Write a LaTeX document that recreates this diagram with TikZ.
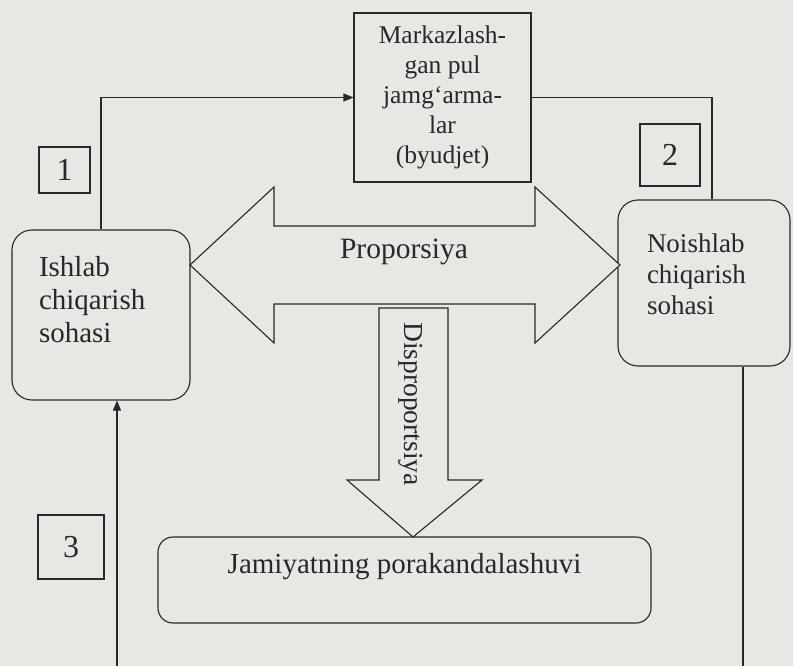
\documentclass[tikz,border=0pt]{standalone}
\usepackage{fontspec}
\setmainfont{Liberation Serif}
\usetikzlibrary{calc, positioning, arrows.meta}

\definecolor{paper}{RGB}{229,232,227}
\definecolor{ink}{RGB}{40,40,40}
\newcommand{\lowstrut}[1]{\rule[-#1]{0pt}{#1}}
\newcommand{\fsz}[2]{\fontsize{#1}{#2}\selectfont}

\begin{document}
\begin{tikzpicture}[x=1pt, y=-1pt, line width=1.1pt, color=ink,
    sector/.style={draw, fill=paper, rounded corners=20pt, inner sep=0pt, align=left},
    numbox/.style={draw, fill=paper, inner sep=0pt, font=\fsz{32}{34}},
    fundbox/.style={draw, fill=paper, inner sep=0pt, align=center, font=\fsz{25.5}{30}},
    flow/.style={-{Triangle[length=10pt, width=8pt]}},
    bigarrow/.style={draw, fill=paper, line join=miter}]
    \path[use as bounding box, fill=paper] (0,0) rectangle (793,666);

    % sectors and the fund
    \node[fundbox, minimum width=177pt, minimum height=169pt] (fund) at (442.5,97.5) {Markazlash-\\gan pul\\jamg‘arma-\\lar\\(byudjet)};
    \node[sector, minimum width=178pt, minimum height=170pt, text width=124pt, font=\fsz{29}{33}] (ishlab) at (101,315) {Ishlab\\chiqarish\\sohasi\lowstrut{32pt}};
    \node[sector, minimum width=172pt, minimum height=166pt, text width=114pt, font=\fsz{27}{31}] (noishlab) at (704,283) {Noishlab\\chiqarish\\sohasi\lowstrut{18pt}};
    \node[sector, rounded corners=15pt, minimum width=493pt, minimum height=86pt, align=center, font=\fsz{29}{33}] (jamiyat) at (404.5,580) {Jamiyatning porakandalashuvi\lowstrut{34pt}};

    \node[numbox, minimum width=51pt, minimum height=46pt] (one) at (64.5,170) {1};
    \node[numbox, minimum width=60pt, minimum height=62pt] (two) at (670,155) {2};
    \node[numbox, minimum width=66pt, minimum height=64pt] (three) at (71,547) {3};

    % block arrows
    \draw[bigarrow] (190,265) -- (274,187) -- (274,226) -- (535,226) -- (535,187) -- (620,265)
        -- (535,343) -- (535,304) -- (274,304) -- (274,343) -- cycle;
    \node[font=\fsz{29.5}{32}, anchor=base] (prop) at (404,258) {Proporsiya};

    \draw[bigarrow] (379,308) -- (448,308) -- (448,480) -- (482,480) -- (413,537) -- (347,480) -- (379,480) -- cycle;
    \node[font=\fsz{27.5}{30}, rotate=-90] (disprop) at (411,404) {Disproportsiya};

    % connectors
    \coordinate (footL) at (117,666);
    \coordinate (footR) at (743,666);
    \draw[flow] (ishlab.north) |- (fund.west);
    \draw (fund.east) -| ([xshift=8pt]noishlab.north);
    \draw ([xshift=39pt]noishlab.south) -- (footR);
    \draw[flow] (footL) -- (ishlab.south -| footL);

\end{tikzpicture}
\end{document}
